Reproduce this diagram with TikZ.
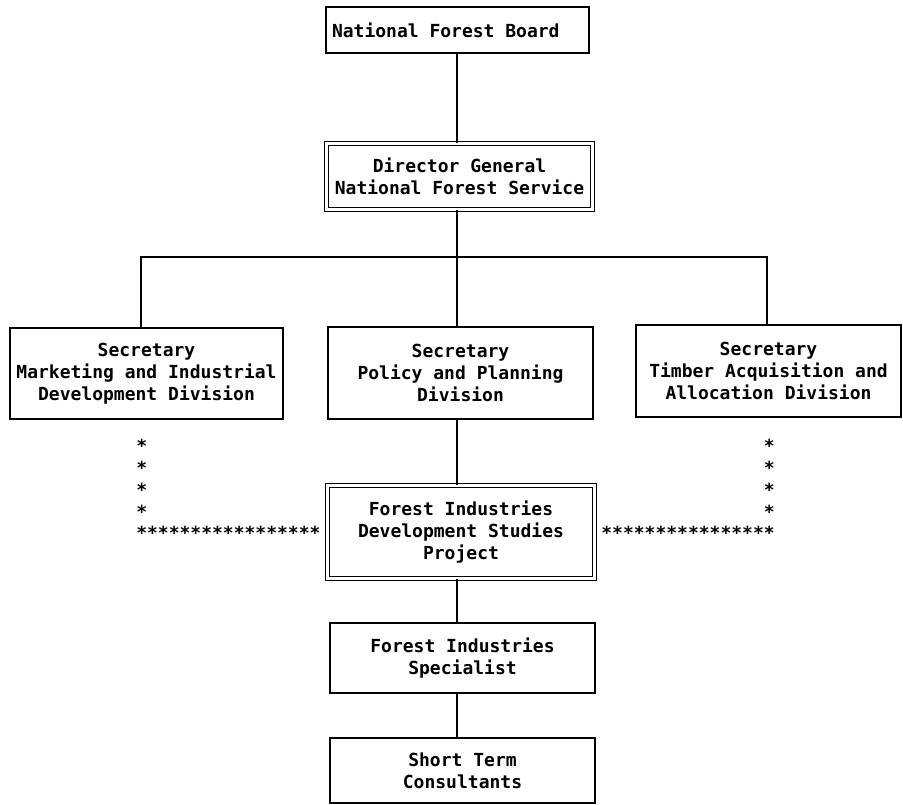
\documentclass[tikz,border=0pt]{standalone}
\usepackage{fontspec}
\setmonofont{DejaVu Sans Mono}
\tikzset{
  orgbox/.style={draw, line width=0.9pt, rectangle, inner sep=0pt, align=center,
    font=\ttfamily\bfseries\fontsize{13.5}{16.5}\selectfont},
  dblbox/.style={orgbox, line width=0.7pt, double, double distance=1.7pt},
  stars/.style={inner sep=0pt, font=\ttfamily\bfseries\fontsize{13.5}{16.3}\selectfont},
  link/.style={line width=0.9pt}
}
\begin{document}
\begin{tikzpicture}[x=0.75pt, y=-0.75pt]
                \useasboundingbox (0, 0) rectangle (903, 804);
                % Spine and bus
                \path (457, 0) coordinate (spine);
                \path (141, 257) coordinate (busL);
                \path (767, 257) coordinate (busR);

                % Boxes
                \node[orgbox, minimum height=34.5pt, inner xsep=4.5pt]
                    (nfb) at (457.5, 30) {\makebox[188.25pt][l]{National Forest Board}};
                \node[dblbox, minimum width=199.5pt, minimum height=49.5pt]
                    (dg) at (459.5, 176.5) {Director General\\National Forest Service};
                \node[orgbox, minimum width=204.75pt, minimum height=68.25pt]
                    (mkt) at (146.5, 373.5) {Secretary\\Marketing and Industrial\\Development Division};
                \node[orgbox, minimum width=198.75pt, minimum height=69pt]
                    (pol) at (460.5, 373) {Secretary\\Policy and Planning\\Division};
                \node[orgbox, minimum width=198.75pt, minimum height=69pt]
                    (tim) at (768.5, 371) {Secretary\\Timber Acquisition and\\Allocation Division};
                \node[dblbox, minimum width=200.25pt, minimum height=69.75pt]
                    (fidsp) at (461, 532) {Forest Industries\\Development Studies\\Project};
                \node[orgbox, minimum width=198.75pt, minimum height=52.5pt]
                    (fis) at (462.5, 658) {Forest Industries\\Specialist};
                \node[orgbox, minimum width=198.75pt, minimum height=48.75pt]
                    (stc) at (462.5, 770.5) {Short Term\\Consultants};

                % Solid links
                \draw[link] (spine |- nfb.south) -- (spine |- dg.north);
                \draw[link] (spine |- dg.south) -- (spine |- pol.north);
                \draw[link] (mkt.north -| busL) -- (busL) -- (busR) -- (tim.north -| busR);
                \draw[link] (spine |- pol.south) -- (spine |- fidsp.north);
                \draw[link] (spine |- fidsp.south) -- (spine |- fis.north);
                \draw[link] (spine |- fis.south) -- (spine |- stc.north);

                % Dotted (asterisk) links
                \node[stars, align=left, anchor=south west] (starsL) at (136, 540)
                    {*\\*\\*\\*\\*****************};
                \node[stars, align=right, anchor=south east] (starsR) at (775, 540)
                    {*\\*\\*\\*\\****************};
\end{tikzpicture}
\end{document}
